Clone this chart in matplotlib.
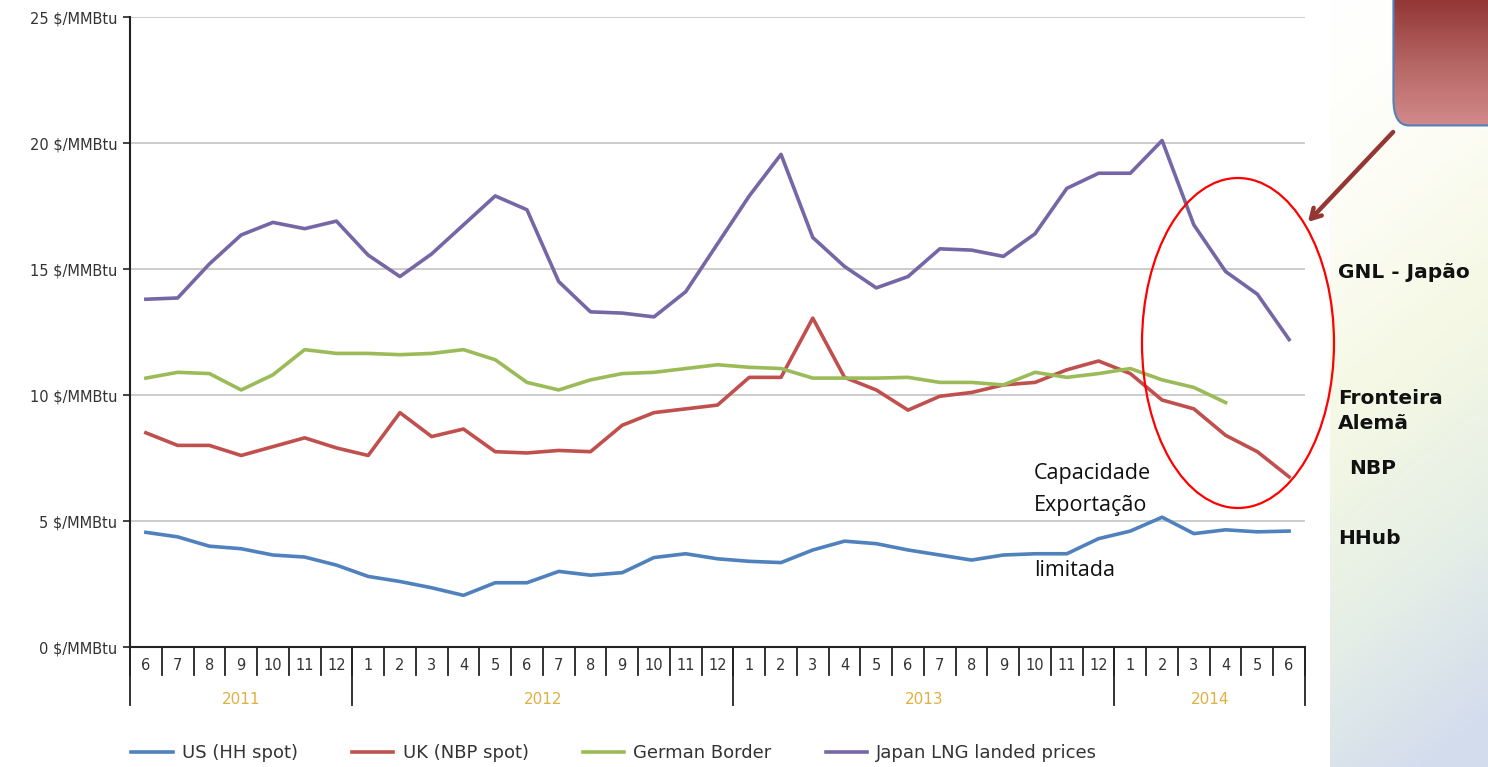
import numpy as np
import matplotlib
matplotlib.use('Agg')
import matplotlib.pyplot as plt
from matplotlib import patches, transforms
from matplotlib.colors import LinearSegmentedColormap

# months from 2011-06 to 2014-06
month_labels = [6, 7, 8, 9, 10, 11, 12,
                1, 2, 3, 4, 5, 6, 7, 8, 9, 10, 11, 12,
                1, 2, 3, 4, 5, 6, 7, 8, 9, 10, 11, 12,
                1, 2, 3, 4, 5, 6]
year_labels = ['2011', '2012', '2013', '2014']

us_hh = [4.55, 4.37, 4.0, 3.9, 3.65, 3.57, 3.25,
         2.8, 2.6, 2.35, 2.05, 2.55, 2.55, 3.0, 2.85, 2.95, 3.55, 3.7, 3.5,
         3.4, 3.35, 3.85, 4.2, 4.1, 3.85, 3.65, 3.45, 3.65, 3.7, 3.7, 4.3,
         4.6, 5.15, 4.5, 4.65, 4.57, 4.6]
uk_nbp = [8.5, 8.0, 8.0, 7.6, 7.95, 8.3, 7.9,
          7.6, 9.3, 8.35, 8.65, 7.75, 7.7, 7.8, 7.75, 8.8, 9.3, 9.45, 9.6,
          10.7, 10.7, 13.05, 10.7, 10.2, 9.4, 9.95, 10.1, 10.4, 10.5, 11.0, 11.35,
          10.85, 9.8, 9.45, 8.4, 7.75, 6.75]
german = [10.67, 10.9, 10.85, 10.2, 10.8, 11.8, 11.65,
          11.65, 11.6, 11.65, 11.8, 11.4, 10.5, 10.2, 10.6, 10.85, 10.9, 11.05, 11.2,
          11.1, 11.05, 10.67, 10.67, 10.67, 10.7, 10.5, 10.5, 10.4, 10.9, 10.7, 10.85,
          11.05, 10.6, 10.3, 9.7]
japan = [13.8, 13.85, 15.2, 16.35, 16.85, 16.6, 16.9,
         15.55, 14.7, 15.6, 16.75, 17.9, 17.35, 14.5, 13.3, 13.25, 13.1, 14.1, 16.0,
         17.9, 19.55, 16.25, 15.1, 14.25, 14.7, 15.8, 15.75, 15.5, 16.4, 18.2, 18.8,
         18.8, 20.1, 16.75, 14.9, 14.0, 12.2]

series = [
    ('US (HH spot)', us_hh, '#4f81bd'),
    ('UK (NBP spot)', uk_nbp, '#c0504d'),
    ('German Border', german, '#9bbb59'),
    ('Japan LNG landed prices', japan, '#7566a6'),
]

W, H = 1488, 767
fig = plt.figure(figsize=(W / 100, H / 100), dpi=100)
fig.patch.set_facecolor('white')

def fx(px):
    return px / W

def fy(py):
    return 1 - py / H

# soft background panel on the right
bg = fig.add_axes([fx(1330), 0, fx(W - 1330), 1], zorder=0)
bg.axis('off')
grad_cmap = LinearSegmentedColormap.from_list(
    'bg', ['#ffffff', '#fdfdf6', '#f5f8e4', '#e6efe6', '#d3dced'])
yy, xx = np.mgrid[0:1:200j, 0:1:60j]
bg.imshow(np.clip(yy * 0.9 + xx * 0.15, 0, 1), cmap=grad_cmap, aspect='auto',
          extent=[0, 1, 0, 1], origin='upper')

ax = fig.add_axes([fx(130), fy(647), fx(1305) - fx(130), fy(17) - fy(647)], zorder=2)
ax.set_facecolor('none')

x = np.arange(len(month_labels))
for name, vals, col in series:
    ax.plot(x[:len(vals)], vals, color=col, lw=2.6, label=name, solid_joinstyle='round')

ax.set_xlim(-0.5, len(month_labels) - 0.5)
ax.set_ylim(0, 25)
yt = np.arange(0, 26, 5)
ax.set_yticks(yt)
ax.set_yticklabels([f'{v} $/MMBtu' for v in yt], fontsize=10.5, color='#333333')
ax.tick_params(axis='y', length=5, width=1.2, color='#222222', pad=4)
ax.set_xticks([])
for v in yt[1:]:
    ax.axhline(v, color='#c8c8c8', lw=1.3, zorder=0)
for s in ['top', 'right']:
    ax.spines[s].set_visible(False)
ax.spines['left'].set_linewidth(1.5)
ax.spines['left'].set_color('#222222')
ax.spines['bottom'].set_linewidth(1.5)
ax.spines['bottom'].set_color('#222222')

# month / year table under the axis
tr = transforms.blended_transform_factory(ax.transData, ax.transAxes)
for i in range(len(month_labels) + 1):
    ax.plot([i - 0.5, i - 0.5], [0, -0.045], transform=tr, color='#222222',
            lw=1.3, clip_on=False)
for i, m in enumerate(month_labels):
    ax.text(i, -0.029, str(m), transform=tr, ha='center', va='center',
            fontsize=10.5, color='#333333')
starts = [0] + [i for i, m in enumerate(month_labels) if m == 1 and i > 0]
ends = starts[1:] + [len(month_labels)]
for yl, a, b in zip(year_labels, starts, ends):
    ax.plot([a - 0.5, a - 0.5], [0, -0.092], transform=tr, color='#222222',
            lw=1.3, clip_on=False)
    ax.text((a + b - 1) / 2, -0.084, yl, transform=tr, ha='center', va='center',
            fontsize=11, color='#e0b040')
ax.plot([len(month_labels) - 0.5] * 2, [0, -0.092], transform=tr,
        color='#222222', lw=1.3, clip_on=False)

leg = fig.legend(loc='center left', bbox_to_anchor=(fx(115), fy(753)), ncol=4,
                 frameon=False, fontsize=13, handlelength=2.3, handletextpad=0.5,
                 columnspacing=3.0)
for t in leg.get_texts():
    t.set_color('#333333')

# annotations
for txt, py in [('Capacidade', 474), ('Exportação', 506), ('limitada', 570)]:
    fig.text(fx(1034), fy(py), txt, fontsize=15.5, family='Open Sans',
             ha='left', va='center', color='#111111', zorder=5)

for txt, px, py in [('GNL - Japão', 1338, 273), ('Fronteira\nAlemã', 1338, 411),
                    ('NBP', 1349, 468), ('HHub', 1338, 538)]:
    fig.text(fx(px), fy(py), txt, fontsize=14.5, fontweight='bold',
             ha='left', va='center', color='#111111', linespacing=1.4, zorder=5)

ell = patches.Ellipse((fx(1238), fy(343)), fx(192), 330 / H, transform=fig.transFigure,
                      fill=False, edgecolor='#ff0000', lw=1.6, zorder=6)
fig.add_artist(ell)

# red callout box at top right
box_ax = fig.add_axes([fx(1392), fy(128), fx(W - 1392), fy(0) - fy(128)], zorder=6)
box_ax.set_xlim(0, 1)
box_ax.set_ylim(0, 1)
box_ax.axis('off')
box_cmap = LinearSegmentedColormap.from_list('box', ['#d48b8b', '#b56665', '#933737'])
gy = np.linspace(0, 1, 100).reshape(-1, 1)
im = box_ax.imshow(gy, cmap=box_cmap, aspect='auto', extent=[0, 1, 0, 1], origin='lower')
fbox = patches.FancyBboxPatch((0.015, 0.02), 1.3, 1.2,
                              boxstyle='round,pad=0,rounding_size=0.16',
                              mutation_aspect=1.3, facecolor='none',
                              edgecolor='#4f81bd', lw=1.5, clip_on=False)
box_ax.add_patch(fbox)
im.set_clip_path(fbox)

arrow = patches.FancyArrowPatch((fx(1395), fy(130)), (fx(1306), fy(224)),
                                transform=fig.transFigure,
                                arrowstyle='->,head_length=7,head_width=4',
                                color='#943634', lw=3.2, zorder=7)
fig.add_artist(arrow)

fig.savefig('out.png', dpi=100)
